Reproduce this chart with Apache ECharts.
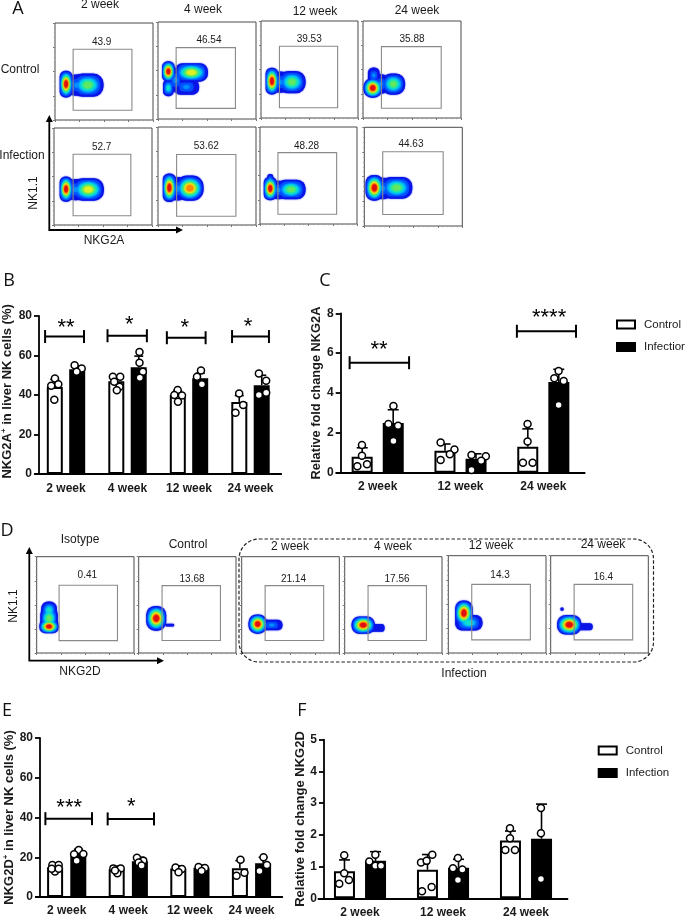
<!DOCTYPE html>
<html><head><meta charset="utf-8">
<style>html,body{margin:0;padding:0;background:#fff}#c{width:685px;height:916px}</style>
<script src="https://cdn.jsdelivr.net/npm/echarts@6/dist/echarts.min.js"></script>
</head><body><div id="c"></div>
<script>
// ---------- data ----------
const catsFour = ['2 week','4 week','12 week','24 week'];
const catsThree = ['2 week','12 week','24 week'];

const bControl = [44,47,40,36.5];
const bInfection = [53,54,48.5,45];
const bErrControl = [47.9,49.6,42.2,39.7];
const bErrInfection = [54.8,59.7,51,50];
const bPtsControl = [[-0.18,48.4],[-0.24,44.7],[-0.125,45.4],[-0.19,37.6],[0.762,49.2],[0.881,49.2],[0.87,44.2],[0.827,42.4],[0.784,46.7],[1.816,42.5],[1.886,39.7],[1.762,40],[1.821,36.6],[2.816,40.8],[2.881,35],[2.756,31]];
const bPtsInfection = [[0.14,55.1],[0.255,53.4],[0.173,51.8],[1.195,61.8],[1.195,56.3],[1.25,51.8],[1.2,48.7],[2.195,52.4],[2.13,49.2],[2.21,45.5],[3.136,50.9],[3.255,47.2],[3.255,41.2],[3.136,40]];
const bBrackets = [[-0.34,0.293,69.6],[0.675,1.315,70],[1.64,2.27,69],[2.7,3.3,69.6]];
const bStars = [[0,74.1,'**'],[1.03,75.5,'*'],[1.93,74.1,'*'],[2.96,74.6,'*']];

const cControl = [0.8,1.1,1.3];
const cInfection = [2.5,0.7,4.55];
const cErrControl = [1.25,1.44,2.2];
const cErrInfection = [3.16,0.95,5.19];
const cPtsControl = [[-0.19,1.39],[-0.19,0.85],[-0.246,0.32],[-0.129,0.42],[0.76,1.52],[0.927,1.17],[0.871,0.92],[0.76,0.64],[1.81,2.44],[1.81,1.56],[1.754,0.5],[1.871,0.5]];
const cPtsInfection = [[0.19,3.35],[0.129,2.44],[0.246,2.36],[0.19,1.59],[1.133,0.89],[1.306,0.82],[1.25,0.6],[1.133,0.13],[2.185,5.1],[2.133,4.74],[2.246,4.6],[2.185,3.4]];
const cBrackets = [[-0.339,0.379,5.52],[1.681,2.395,7.1]];
const cStars = [[0.016,6.17,'**'],[2.07,7.76,'****']];

const eControl = [15,14,14.3,14.5];
const eInfection = [22,18,14.7,17];
const eErrControl = [17,15.5,15.7,18.3];
const eErrInfection = [24,20,16,20];
const ePtsControl = [[-0.233,16.1],[-0.13,16.1],[-0.19,12.8],[-0.244,14.2],[-0.13,14.2],[0.757,14.4],[0.876,14.4],[0.822,11.9],[0.784,13.3],[1.767,14.9],[1.87,14.1],[1.816,12.4],[2.821,18.8],[2.886,12.2],[2.757,10.7]];
const ePtsInfection = [[0.195,23.7],[0.12,21.5],[0.27,21.6],[0.162,18.3],[1.14,19.8],[1.243,18.3],[1.168,17.3],[1.216,15.8],[2.14,15.1],[2.243,14.6],[2.19,13.1],[3.195,20],[3.25,16.1],[3.13,13.1]];
const eBrackets = [[-0.346,0.411,39.4],[0.665,1.417,39.3]];
const eStars = [[0.04,44.8,'***'],[1.05,45.3,'*']];

const fControl = [0.85,0.9,1.82];
const fInfection = [1.18,0.96,1.88];
const fErrControl = [1.21,1.38,2.12];
const fErrInfection = [1.47,1.23,2.97];
const fPtsControl = [[-0.19,1.36],[-0.19,0.79],[-0.133,0.58],[-0.25,0.46],[0.871,1.37],[0.735,1.13],[0.803,1.18],[0.863,0.36],[0.747,0.22],[1.807,2.21],[1.807,1.89],[1.751,1.52],[1.867,1.52]];
const fPtsInfection = [[0.185,1.37],[0.112,1.16],[0.185,1.03],[0.253,1.03],[1.18,1.27],[1.12,0.95],[1.233,0.91],[1.18,0.58],[2.18,2.85],[2.18,2.05],[2.18,0.61]];

// flow-cytometry panels: percent values, gates [x0,x1,y0,y1], label spot [x,y]
const flowAControlPct = ['43.9','46.54','39.53','35.88'];
const flowAInfectionPct = ['52.7','53.62','48.28','44.63'];
const flowDPct = ['0.41','13.68','21.14','17.56','14.3','16.4'];
const flowAControlGates = [[18.5,78.5,10,73],[18.5,79,11,73.6],[19,79,10.6,74],[18.8,79.8,10,73.6]];
const flowAInfectionGates = [[19.5,78.4,9.6,73],[19,79.5,9,72],[18.5,79,10,73.6],[18.8,80.5,11.6,75.3]];
const flowDGates = [[23,83,12.8,70.3],[24,84,13,70],[24,84,13,70],[24,84,13,70],[24,84,13.5,70.5],[24,84,13.5,70.5]];
const flowAControlLabelAt = [[47.6,80.5],[52,81],[49.7,80.8],[50,81]];
const flowAInfectionLabelAt = [[48.6,80],[49.3,80],[48,80.5],[47.6,82.5]];
const flowDLabelAt = [[52,80.5],[54.8,77],[53,77],[53.8,76.5],[53,80],[54,78]];
// density lobes [cx,cy,rx,ry,peakLevel]
const flowAControlLobes = [
 [[22,36,9,11,1],[11.3,37,6.5,13.7,6],[33.5,36,16,12,3]],
 [[18,40,8,12,1],[10.6,49,6.5,10.5,6],[10.6,32,5.5,8.5,2],[34,48,17,9.5,4],[29,33,13,8,1]],
 [[20,37,8,11,1],[11.3,38,6.5,13.7,6],[32,37,14,11.5,3]],
 [[18,35,8,10,1],[11,44,6,8,1],[10,31,9.5,10,6],[31,35,12,11,3]]
];
const flowAInfectionLobes = [
 [[22,36.5,9,11,1],[12.3,37,6.5,13,6],[35,36.6,16,11.5,4]],
 [[20,37,8,12,1],[11.6,38,6.7,14.5,6],[32.5,37.6,14,12.8,5]],
 [[19,35,8,9.5,1],[10.6,46,3,5.5,1],[10.6,36.6,6.7,12,6],[32,35.6,15,10,3]],
 [[19,38,8,11,1],[10.3,38.7,9,13,6],[33,38.7,16,11,3]]
];
const flowDLobes = [
 [[12.7,44.5,8,9,2],[12.7,36,9,12,3],[12.7,27.5,10,7,6]],
 [[18,36,10.3,12.8,6],[32,29,4.5,1.5,0]],
 [[16.4,30,9.5,10,6],[30.8,29,11,5.5,1]],
 [[19,29,12,9,6],[33.5,26,7.5,4,0]],
 [[16,41,9,13,6],[21,31,14,8,2]],
 [[19,29,12.5,10,6],[35,27,8,3.5,0],[11.6,45,1.7,1.7,0]]
];
const densityColors = ['#0a14e6','#0050ff','#0090ff','#00c8f0','#10e0c8','#30e890','#60e860','#a0ec40','#e0f020','#ffc800','#ff8a00','#f84808','#e01010'];

// ---------- option building ----------
const FONT = '"Liberation Sans", Arial, sans-serif';
const grid=[],xAxis=[],yAxis=[],series=[];

function flowPanel(rect, lobes, gate, labelAt, pct){
  const i = grid.length;
  grid.push({left:rect[0],top:rect[1],width:rect[2],height:rect[3],outerBoundsMode:'none',show:true,borderColor:'#4a4a4a',borderWidth:1,backgroundColor:'transparent',containLabel:false});
  const axisCommon = {type:'value',min:0,max:100,interval:25,gridIndex:i,splitLine:{show:false},axisLine:{show:false},axisLabel:{show:false},
    axisTick:{show:true,length:2,lineStyle:{color:'#777',width:1}},
    minorTick:{show:true,splitNumber:5,length:1.2,lineStyle:{color:'#999',width:0.8}},minorSplitLine:{show:false}};
  xAxis.push(Object.assign({},axisCommon));
  yAxis.push(Object.assign({},axisCommon));
  const layers=[];
  for(let lvl=0;lvl<densityColors.length;lvl++){
    lobes.forEach(l=>{
      if(l[4]*2>=lvl){
        const s=l[4]>0 ? 1-Math.pow(lvl/(l[4]*2),0.7)*0.75 : 1;
        layers.push([l[0],l[1],l[2]*s,l[3]*s,lvl]);
      }
    });
  }
  series.push({type:'custom',coordinateSystem:'cartesian2d',xAxisIndex:i,yAxisIndex:i,silent:true,clip:true,z:2,animation:false,
    data:layers,encode:{x:0,y:1},
    renderItem:(p,api)=>{
      const a=api.coord([api.value(0)-api.value(2),api.value(1)+api.value(3)]);
      const b=api.coord([api.value(0)+api.value(2),api.value(1)-api.value(3)]);
      const w=b[0]-a[0],h=b[1]-a[1],lvl=api.value(4);
      const c=densityColors[lvl];
      const style={fill:c,shadowBlur:1.5,shadowColor:c};
      if(lvl<2) return {type:'rect',shape:{x:a[0],y:a[1],width:w,height:h,r:Math.min(w,h)*0.44},style};
      return {type:'ellipse',shape:{cx:a[0]+w/2,cy:a[1]+h/2,rx:w/2,ry:h/2},style};
    }});
  series.push({type:'custom',coordinateSystem:'cartesian2d',xAxisIndex:i,yAxisIndex:i,silent:true,z:3,animation:false,
    data:[gate],encode:{x:[0,1],y:[2,3]},
    renderItem:(p,api)=>{
      const a=api.coord([api.value(0),api.value(3)]);
      const b=api.coord([api.value(1),api.value(2)]);
      return {type:'rect',shape:{x:a[0],y:a[1],width:b[0]-a[0],height:b[1]-a[1]},style:{fill:'none',stroke:'#8a8a8a',lineWidth:1.1}};
    }});
  series.push({type:'custom',coordinateSystem:'cartesian2d',xAxisIndex:i,yAxisIndex:i,silent:true,z:4,animation:false,
    data:[labelAt],encode:{x:0,y:1},
    renderItem:(p,api)=>{
      const a=api.coord([api.value(0),api.value(1)]);
      return {type:'text',style:{text:pct,x:a[0],y:a[1],align:'center',verticalAlign:'middle',fontSize:10,fontFamily:FONT,fill:'#1a1a1a'}};
    }});
}

function barPanel(o){
  const i=grid.length, j=xAxis.length, k=j+1, yi=yAxis.length;
  grid.push({left:o.rect[0],top:o.rect[1],width:o.rect[2],height:o.rect[3],outerBoundsMode:'none',show:false});
  xAxis.push({type:'category',gridIndex:i,data:o.cats,axisLine:{onZero:false,lineStyle:{color:'#000',width:1.8}},
    axisTick:{alignWithLabel:true,length:4,lineStyle:{color:'#000',width:1.8}},
    axisLabel:{color:'#1a1a1a',fontSize:12,fontWeight:'bold',fontFamily:FONT,margin:o.xMargin},splitLine:{show:false}});
  xAxis.push({type:'value',gridIndex:i,show:false,min:-0.5,max:o.cats.length-0.5,splitLine:{show:false}});
  yAxis.push({type:'value',gridIndex:i,min:0,max:o.yMax,interval:o.yStep,offset:o.yOffset,
    axisLine:{show:true,onZero:false,lineStyle:{color:'#000',width:1.8}},axisTick:{show:true,length:5,lineStyle:{color:'#000',width:1.8}},
    axisLabel:{color:'#1a1a1a',fontSize:12,fontWeight:'bold',fontFamily:FONT,margin:7},splitLine:{show:false},
    name:o.yName,nameLocation:'middle',nameGap:o.nameGap,
    nameTextStyle:{color:'#1a1a1a',fontSize:o.nameSize,fontWeight:'bold',fontFamily:FONT,
      rich:{b:{fontSize:o.nameSize,fontWeight:'bold',fontFamily:FONT,color:'#1a1a1a'},s:{fontSize:8,fontWeight:'bold',fontFamily:FONT,color:'#1a1a1a',verticalAlign:'top',padding:[0,0,6,0]}}}});
  series.push({type:'bar',name:'Control',xAxisIndex:j,yAxisIndex:yi,data:o.control,barWidth:o.barWidth,barGap:o.barGap,z:2,animation:false,silent:true,
    itemStyle:{color:'#fff',borderColor:'#000',borderWidth:2}});
  series.push({type:'bar',name:'Infection',xAxisIndex:j,yAxisIndex:yi,data:o.infection,barWidth:o.barWidth,z:2,animation:false,silent:true,
    itemStyle:{color:'#000',borderColor:'#000',borderWidth:2}});
  const errData=[];
  o.errControl.forEach((v,n)=>errData.push([n-o.dx,o.control[n],v]));
  o.errInfection.forEach((v,n)=>errData.push([n+o.dx,o.infection[n],v]));
  series.push({type:'custom',coordinateSystem:'cartesian2d',xAxisIndex:k,yAxisIndex:yi,silent:true,z:3,animation:false,
    data:errData,encode:{x:0,y:[1,2]},
    renderItem:(p,api)=>{
      const a=api.coord([api.value(0),api.value(1)]),b=api.coord([api.value(0),api.value(2)]);
      const st={stroke:'#000',lineWidth:1.6};
      return {type:'group',children:[
        {type:'line',shape:{x1:a[0],y1:a[1],x2:b[0],y2:b[1]},style:st},
        {type:'line',shape:{x1:b[0]-o.cap,y1:b[1],x2:b[0]+o.cap,y2:b[1]},style:st}]};
    }});
  const pointStyle={color:'#fff',borderColor:'#000',borderWidth:1.5,opacity:1};
  series.push({type:'scatter',name:'Control points',xAxisIndex:k,yAxisIndex:yi,data:o.ptsControl,symbolSize:o.sym,itemStyle:pointStyle,z:4,silent:true,animation:false});
  series.push({type:'scatter',name:'Infection points',xAxisIndex:k,yAxisIndex:yi,data:o.ptsInfection,symbolSize:o.sym,itemStyle:pointStyle,z:4,silent:true,animation:false});
  if(o.brackets){
    series.push({type:'custom',coordinateSystem:'cartesian2d',xAxisIndex:k,yAxisIndex:yi,silent:true,z:5,animation:false,
      data:o.brackets,encode:{x:[0,1],y:2},
      renderItem:(p,api)=>{
        const a=api.coord([api.value(0),api.value(2)]),b=api.coord([api.value(1),api.value(2)]);
        const st={stroke:'#000',lineWidth:2};
        return {type:'group',children:[
          {type:'line',shape:{x1:a[0],y1:a[1],x2:b[0],y2:b[1]},style:st},
          {type:'line',shape:{x1:a[0],y1:a[1]-6.5,x2:a[0],y2:a[1]+6.5},style:st},
          {type:'line',shape:{x1:b[0],y1:b[1]-6.5,x2:b[0],y2:b[1]+6.5},style:st}]};
      }});
    series.push({type:'custom',coordinateSystem:'cartesian2d',xAxisIndex:k,yAxisIndex:yi,silent:true,z:5,animation:false,
      data:o.stars.map(s=>[s[0],s[1]]),encode:{x:0,y:1},
      renderItem:(p,api)=>{
        const a=api.coord([api.value(0),api.value(1)]);
        return {type:'text',style:{text:o.stars[p.dataIndex][2],x:a[0],y:a[1],align:'center',verticalAlign:'middle',fontSize:22,fontWeight:'normal',fontFamily:FONT,fill:'#000'}};
      }});
  }
}

// flow panels A
[[55,23,98,97],[158,22,98,97],[261,21,97,97],[363,21,98,97]].forEach((r,n)=>flowPanel(r,flowAControlLobes[n],flowAControlGates[n],flowAControlLabelAt[n],flowAControlPct[n]));
[[54,128,98,97],[158,127,98,98],[260,127,97,97],[364.3,127.3,98,98.7]].forEach((r,n)=>flowPanel(r,flowAInfectionLobes[n],flowAInfectionGates[n],flowAInfectionLabelAt[n],flowAInfectionPct[n]));
// flow panels D
[[36.7,556.7,97.3,96.3],[138.7,556.7,97.3,96.3],[241.7,556.7,97.6,96.3],[344.7,556.7,97.3,96.3],[448.3,555.7,97.7,97.3],[550.7,555.7,97.6,97.3]].forEach((r,n)=>flowPanel(r,flowDLobes[n],flowDGates[n],flowDLabelAt[n],flowDPct[n]));

barPanel({rect:[35.25,316,246,158],cats:catsFour,yMax:80,yStep:20,yOffset:-3.75,xMargin:8.5,control:bControl,infection:bInfection,errControl:bErrControl,errInfection:bErrInfection,
  ptsControl:bPtsControl,ptsInfection:bPtsInfection,brackets:bBrackets,stars:bStars,barWidth:16,barGap:'40%',dx:0.183,cap:4.5,sym:7,
  yName:'{b|  NKG2A}{s|+}{b| in liver NK cells (%)}',nameGap:25,nameSize:13});
barPanel({rect:[336.3,313.3,248.4,159.4],cats:catsThree,yMax:8,yStep:2,yOffset:-4.4,xMargin:8,control:cControl,infection:cInfection,errControl:cErrControl,errInfection:cErrInfection,
  ptsControl:cPtsControl,ptsInfection:cPtsInfection,brackets:cBrackets,stars:cStars,barWidth:21,barGap:'48%',dx:0.187,cap:5.5,sym:7,
  yName:'Relative fold change NKG2A',nameGap:16,nameSize:12.8});
barPanel({rect:[35.9,738,246.4,159],cats:catsFour,yMax:80,yStep:20,yOffset:-4.1,xMargin:8,control:eControl,infection:eInfection,errControl:eErrControl,errInfection:eErrInfection,
  ptsControl:ePtsControl,ptsInfection:ePtsInfection,brackets:eBrackets,stars:eStars,barWidth:16,barGap:'45%',dx:0.189,cap:4.5,sym:7,
  yName:'{b|NKG2D}{s|+}{b| in liver NK cells (%)}',nameGap:23,nameSize:13});
barPanel({rect:[318.5,739.7,249,158.6],cats:catsThree,yMax:5,yStep:1,yOffset:-5.5,xMargin:8,control:fControl,infection:fInfection,errControl:fErrControl,errInfection:fErrInfection,
  ptsControl:fPtsControl,ptsInfection:fPtsInfection,barWidth:21,barGap:'48%',dx:0.187,cap:5.5,sym:7,
  yName:'Relative fold change NKG2D',nameGap:16,nameSize:13});

// ---------- annotations ----------
function txt(t,x,y,size,extra){return Object.assign({type:'text',silent:true,style:{text:t,x:x,y:y,align:'center',verticalAlign:'middle',fontSize:size,fontFamily:FONT,fill:'#1a1a1a'}},extra||{});}
function arrowAxes(ox,oy,topY,rightX){
  const st={stroke:'#000',lineWidth:1.8};
  return [
    {type:'polyline',silent:true,shape:{points:[[ox,topY+4],[ox,oy],[rightX-4,oy]]},style:Object.assign({fill:'none'},st)},
    {type:'polygon',silent:true,shape:{points:[[ox,topY],[ox-3.5,topY+7],[ox+3.5,topY+7]]},style:{fill:'#000'}},
    {type:'polygon',silent:true,shape:{points:[[rightX,oy],[rightX-7,oy-3.5],[rightX-7,oy+3.5]]},style:{fill:'#000'}}
  ];
}
const letters=[['A',18,9],['B',9,281],['C',325,281],['D',7,531],['E',7,711],['F',302,711]];
const graphicEls=[
  ...letters.map(l=>txt(l[0],l[1],l[2],18,{style:{text:l[0],x:l[1],y:l[2],align:'center',verticalAlign:'middle',fontSize:18,fontFamily:'"Open Sans",'+FONT,fill:'#111'}})),
  txt('2 week',100,5,12),txt('4 week',203,10,12),txt('12 week',315,12,12),txt('24 week',417,11,12),
  txt('Control',20,70,12),txt('Infection',22,156,12),
  Object.assign(txt('NK1.1',34,193,12),{rotation:Math.PI/2,originX:34,originY:193}),
  txt('NKG2A',104,241,12),
  ...arrowAxes(49.3,230,115,183),
  txt('Isotype',80,540,12),txt('Control',188,545,12),txt('2 week',290,547,12),txt('4 week',393,547,12),txt('12 week',491,546,12),txt('24 week',603,545,12),
  Object.assign(txt('NK1.1',14,606,12),{rotation:Math.PI/2,originX:14,originY:606}),
  txt('NKG2D',80,672,12),txt('Infection',464,674,12),
  ...arrowAxes(29.3,660.7,547,164),
  {type:'rect',silent:true,z:10,shape:{x:239,y:539,width:414.5,height:123,r:20},style:{fill:'none',stroke:'#222',lineWidth:1.2,lineDash:[3.5,2]}}
];

const legendCommon={orient:'vertical',padding:0,data:['Control','Infection'],icon:'rect',itemWidth:18,itemHeight:8,itemGap:10.5,selectedMode:false,textStyle:{fontSize:11.5,fontFamily:FONT,color:'#1a1a1a',padding:[0,0,0,4]}};
const chart=echarts.init(document.getElementById('c'),null,{width:685,height:916,renderer:'canvas'});
chart.setOption({
  backgroundColor:'#fff',animation:false,
  legend:[Object.assign({left:616,top:318.5},legendCommon),Object.assign({left:597.7,top:744.5},legendCommon)],
  grid,xAxis,yAxis,series,
  graphic:{elements:graphicEls}
});
</script></body></html>
